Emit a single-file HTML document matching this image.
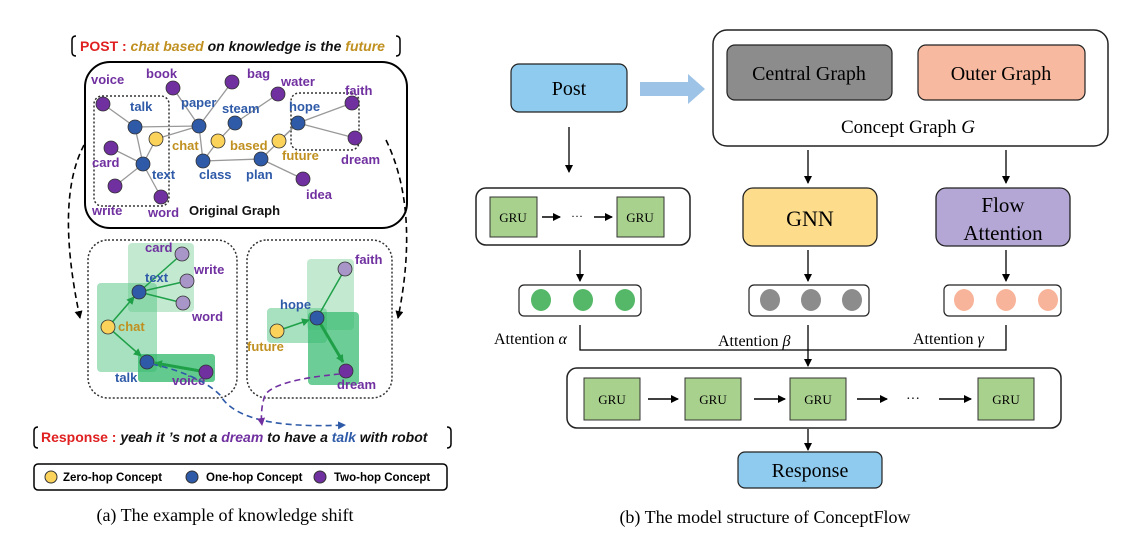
<!DOCTYPE html>
<html><head><meta charset="utf-8"><style>
html,body{margin:0;padding:0;background:#fff;}
svg{display:block;}
.s{font-family:"Liberation Sans",sans-serif;font-weight:bold;}
.r{font-family:"Liberation Serif",serif;}
</style></head><body>
<svg width="1124" height="550" viewBox="0 0 1124 550" xmlns="http://www.w3.org/2000/svg">
<defs>
<marker id="a" markerWidth="8" markerHeight="8" refX="7" refY="4" orient="auto" markerUnits="userSpaceOnUse"><path d="M0,0 L8,4 L0,8 z" fill="#000"/></marker>
<marker id="g" markerWidth="8" markerHeight="8" refX="7" refY="4" orient="auto" markerUnits="userSpaceOnUse"><path d="M0,0 L8,4 L0,8 z" fill="#1fa048"/></marker>
<marker id="b" markerWidth="8" markerHeight="8" refX="7" refY="4" orient="auto" markerUnits="userSpaceOnUse"><path d="M0,0 L8,4 L0,8 z" fill="#2e5aa8"/></marker>
<marker id="p" markerWidth="8" markerHeight="8" refX="7" refY="4" orient="auto" markerUnits="userSpaceOnUse"><path d="M0,0 L8,4 L0,8 z" fill="#7030a0"/></marker>
</defs>
<!-- LEFT PANEL -->
<path d="M76,36 Q72,36 72,40 L72,52 Q72,56 76,56" fill="none" stroke="#000" stroke-width="1.5"/>
<path d="M396,36 Q400,36 400,40 L400,52 Q400,56 396,56" fill="none" stroke="#000" stroke-width="1.5"/>
<text x="80" y="51" class="s" font-size="14"><tspan fill="#e02020">POST :</tspan><tspan fill="#c09020" font-style="italic">  chat based</tspan><tspan fill="#111" font-style="italic"> on knowledge is the </tspan><tspan fill="#c09020" font-style="italic">future</tspan></text>
<rect x="85" y="62" width="322" height="166" rx="25" fill="none" stroke="#000" stroke-width="2"/>
<rect x="94" y="96" width="75" height="110" rx="8" fill="none" stroke="#333" stroke-width="1.5" stroke-dasharray="2,2"/>
<rect x="291" y="93" width="68" height="57" rx="8" fill="none" stroke="#333" stroke-width="1.5" stroke-dasharray="2,2"/>
<g stroke="#999" stroke-width="1.3">
<line x1="103" y1="104" x2="135" y2="127"/><line x1="135" y1="127" x2="199" y2="126"/><line x1="135" y1="127" x2="143" y2="164"/>
<line x1="156" y1="139" x2="199" y2="126"/><line x1="156" y1="139" x2="143" y2="164"/><line x1="111" y1="148" x2="143" y2="164"/>
<line x1="115" y1="186" x2="143" y2="164"/><line x1="161" y1="197" x2="143" y2="164"/><line x1="173" y1="88" x2="199" y2="126"/>
<line x1="232" y1="82" x2="199" y2="126"/><line x1="199" y1="126" x2="203" y2="161"/><line x1="218" y1="141" x2="235" y2="123"/>
<line x1="203" y1="161" x2="218" y2="141"/><line x1="203" y1="161" x2="261" y2="159"/><line x1="235" y1="123" x2="278" y2="94"/>
<line x1="261" y1="159" x2="303" y2="179"/><line x1="261" y1="159" x2="298" y2="123"/><line x1="298" y1="123" x2="352" y2="103"/>
<line x1="298" y1="123" x2="355" y2="138"/><line x1="279" y1="141" x2="298" y2="123"/>
</g>
<g stroke="#333" stroke-width="0.8">
<circle cx="103" cy="104" r="7" fill="#7030a0"/><circle cx="111" cy="148" r="7" fill="#7030a0"/><circle cx="115" cy="186" r="7" fill="#7030a0"/>
<circle cx="161" cy="197" r="7" fill="#7030a0"/><circle cx="173" cy="88" r="7" fill="#7030a0"/><circle cx="232" cy="82" r="7" fill="#7030a0"/>
<circle cx="278" cy="94" r="7" fill="#7030a0"/><circle cx="303" cy="179" r="7" fill="#7030a0"/><circle cx="352" cy="103" r="7" fill="#7030a0"/>
<circle cx="355" cy="138" r="7" fill="#7030a0"/>
<circle cx="135" cy="127" r="7" fill="#2e5aa8"/><circle cx="143" cy="164" r="7" fill="#2e5aa8"/><circle cx="199" cy="126" r="7" fill="#2e5aa8"/>
<circle cx="235" cy="123" r="7" fill="#2e5aa8"/><circle cx="203" cy="161" r="7" fill="#2e5aa8"/><circle cx="261" cy="159" r="7" fill="#2e5aa8"/>
<circle cx="298" cy="123" r="7" fill="#2e5aa8"/>
<circle cx="156" cy="139" r="7" fill="#fbd35a"/><circle cx="218" cy="141" r="7" fill="#fbd35a"/><circle cx="279" cy="141" r="7" fill="#fbd35a"/>
</g>
<g class="s" font-size="13">
<g fill="#7030a0"><text x="91" y="84">voice</text><text x="146" y="78">book</text><text x="247" y="78">bag</text><text x="281" y="86">water</text><text x="345" y="95">faith</text><text x="92" y="167">card</text><text x="92" y="215">write</text><text x="148" y="217">word</text><text x="306" y="199">idea</text><text x="341" y="164">dream</text></g>
<g fill="#2e5aa8"><text x="130" y="111">talk</text><text x="181" y="107">paper</text><text x="222" y="113">steam</text><text x="289" y="111">hope</text><text x="152" y="179">text</text><text x="199" y="179">class</text><text x="246" y="179">plan</text></g>
<g fill="#c09020"><text x="172" y="150">chat</text><text x="230" y="150">based</text><text x="282" y="160">future</text></g>
<text x="189" y="215" fill="#111">Original Graph</text>
</g>
<path d="M84,145 Q55,200 80,318" fill="none" stroke="#000" stroke-width="1.6" stroke-dasharray="6,4" marker-end="url(#a)"/>
<path d="M386,140 Q420,210 398,318" fill="none" stroke="#000" stroke-width="1.6" stroke-dasharray="6,4" marker-end="url(#a)"/>
<rect x="88" y="240" width="149" height="158" rx="20" fill="none" stroke="#333" stroke-width="1.5" stroke-dasharray="2,2"/>
<rect x="247" y="240" width="145" height="158" rx="20" fill="none" stroke="#333" stroke-width="1.5" stroke-dasharray="2,2"/>
<rect x="128" y="243" width="66" height="69" rx="4" fill="#9bdcb3" opacity="0.6"/>
<rect x="97" y="283" width="60" height="89" rx="4" fill="#5fc98a" opacity="0.55"/>
<rect x="138" y="354" width="77" height="28" rx="3" fill="#2fb86a" opacity="0.75"/>
<rect x="307" y="259" width="47" height="71" rx="4" fill="#9bdcb3" opacity="0.6"/>
<rect x="267" y="308" width="60" height="35" rx="4" fill="#5fc98a" opacity="0.55"/>
<rect x="308" y="312" width="51" height="73" rx="4" fill="#2fb86a" opacity="0.7"/>
<g stroke="#1fa048" stroke-width="1.5" fill="none">
<line x1="139" y1="292" x2="182" y2="254"/><line x1="139" y1="292" x2="187" y2="281"/><line x1="139" y1="292" x2="183" y2="303"/>
<line x1="108" y1="327" x2="134" y2="297" marker-end="url(#g)"/><line x1="108" y1="327" x2="141" y2="356" marker-end="url(#g)"/>
<line x1="206" y1="372" x2="155" y2="363" stroke-width="3" marker-end="url(#g)"/>
<line x1="277" y1="331" x2="309" y2="320" marker-end="url(#g)"/><line x1="317" y1="318" x2="345" y2="269"/>
<line x1="317" y1="318" x2="343" y2="362" stroke-width="3" marker-end="url(#g)"/>
</g>
<g stroke="#333" stroke-width="0.8">
<circle cx="182" cy="254" r="7" fill="#a996c9"/><circle cx="187" cy="281" r="7" fill="#a996c9"/><circle cx="183" cy="303" r="7" fill="#a996c9"/>
<circle cx="345" cy="269" r="7" fill="#a996c9"/>
<circle cx="139" cy="292" r="7" fill="#2e5aa8"/><circle cx="147" cy="362" r="7" fill="#2e5aa8"/><circle cx="317" cy="318" r="7" fill="#2e5aa8"/>
<circle cx="206" cy="372" r="7" fill="#7030a0"/><circle cx="346" cy="371" r="7" fill="#7030a0"/>
<circle cx="108" cy="327" r="7" fill="#fbd35a"/><circle cx="277" cy="331" r="7" fill="#fbd35a"/>
</g>
<g class="s" font-size="13">
<g fill="#7030a0"><text x="145" y="252">card</text><text x="194" y="274">write</text><text x="192" y="321">word</text><text x="355" y="264">faith</text><text x="337" y="389">dream</text><text x="172" y="385">voice</text></g>
<g fill="#2e5aa8"><text x="145" y="282">text</text><text x="280" y="309">hope</text><text x="115" y="382">talk</text></g>
<g fill="#c09020"><text x="118" y="331">chat</text><text x="247" y="351">future</text></g>
</g>
<path d="M152,364 Q200,375 220,395 Q240,430 345,425" fill="none" stroke="#2e5aa8" stroke-width="1.6" stroke-dasharray="6,4" marker-end="url(#b)"/>
<path d="M340,374 Q275,380 265,395 Q260,410 262,425" fill="none" stroke="#7030a0" stroke-width="1.6" stroke-dasharray="6,4" marker-end="url(#p)"/>
<path d="M38,427 Q34,427 34,431 L34,444 Q34,448 38,448" fill="none" stroke="#000" stroke-width="1.5"/>
<path d="M447,427 Q451,427 451,431 L451,444 Q451,448 447,448" fill="none" stroke="#000" stroke-width="1.5"/>
<text x="41" y="442" class="s" font-size="14"><tspan fill="#e02020">Response :</tspan><tspan fill="#111" font-style="italic"> yeah it ’s not a </tspan><tspan fill="#7030a0" font-style="italic">dream</tspan><tspan fill="#111" font-style="italic"> to have a </tspan><tspan fill="#2e5aa8" font-style="italic">talk</tspan><tspan fill="#111" font-style="italic"> with robot</tspan></text>
<rect x="34" y="464" width="413" height="26" rx="4" fill="none" stroke="#000" stroke-width="1.5"/>
<circle cx="51" cy="477" r="6" fill="#fbd35a" stroke="#333"/><text x="63" y="481" class="s" font-size="11.5">Zero-hop Concept</text>
<circle cx="192" cy="477" r="6" fill="#2e5aa8" stroke="#333"/><text x="206" y="481" class="s" font-size="11.5">One-hop Concept</text>
<circle cx="320" cy="477" r="6" fill="#7030a0" stroke="#333"/><text x="334" y="481" class="s" font-size="11.5">Two-hop Concept</text>
<text x="225" y="521" class="r" font-size="18" text-anchor="middle">(a) The example of knowledge shift</text>
<!-- RIGHT PANEL -->
<rect x="511" y="64" width="116" height="48" rx="8" fill="#8ecbef" stroke="#222" stroke-width="1.2"/>
<text x="569" y="95" class="r" font-size="20" text-anchor="middle">Post</text>
<path d="M640,82 L688,82 L688,74 L705,89 L688,104 L688,96 L640,96 z" fill="#9dc3e6"/>
<rect x="713" y="30" width="395" height="116" rx="14" fill="#fff" stroke="#222" stroke-width="1.5"/>
<rect x="727" y="45" width="165" height="55" rx="8" fill="#8c8c8c" stroke="#222" stroke-width="1.2"/>
<text x="809" y="80" class="r" font-size="20" text-anchor="middle">Central Graph</text>
<rect x="918" y="45" width="167" height="55" rx="8" fill="#f7baa0" stroke="#222" stroke-width="1.2"/>
<text x="1001" y="80" class="r" font-size="20" text-anchor="middle">Outer Graph</text>
<text x="908" y="133" class="r" font-size="19" text-anchor="middle">Concept Graph <tspan font-style="italic">G</tspan></text>
<g stroke="#000" stroke-width="1.3" fill="none">
<line x1="569" y1="127" x2="569" y2="172" marker-end="url(#a)"/>
<line x1="808" y1="150" x2="808" y2="183" marker-end="url(#a)"/>
<line x1="1006" y1="150" x2="1006" y2="183" marker-end="url(#a)"/>
<line x1="580" y1="250" x2="580" y2="281" marker-end="url(#a)"/>
<line x1="808" y1="250" x2="808" y2="281" marker-end="url(#a)"/>
<line x1="1006" y1="250" x2="1006" y2="281" marker-end="url(#a)"/>
<polyline points="580,325 580,350 1006,350 1006,325"/>
<line x1="808" y1="325" x2="808" y2="366" marker-end="url(#a)"/>
<line x1="808" y1="429" x2="808" y2="450" marker-end="url(#a)"/>
</g>
<rect x="476" y="188" width="214" height="57" rx="10" fill="#fff" stroke="#222" stroke-width="1.5"/>
<rect x="490" y="197" width="47" height="40" fill="#a9d18e" stroke="#333"/><text x="513" y="222" class="r" font-size="13" text-anchor="middle">GRU</text>
<rect x="617" y="197" width="47" height="40" fill="#a9d18e" stroke="#333"/><text x="640" y="222" class="r" font-size="13" text-anchor="middle">GRU</text>
<line x1="542" y1="217" x2="560" y2="217" stroke="#000" stroke-width="1.5" marker-end="url(#a)"/>
<text x="577" y="220" font-size="12" text-anchor="middle" class="r">···</text>
<line x1="594" y1="217" x2="612" y2="217" stroke="#000" stroke-width="1.5" marker-end="url(#a)"/>
<rect x="743" y="188" width="134" height="58" rx="10" fill="#fddd8c" stroke="#222" stroke-width="1.3"/>
<text x="810" y="226" class="r" font-size="22" text-anchor="middle">GNN</text>
<rect x="936" y="188" width="134" height="58" rx="10" fill="#b4a7d6" stroke="#222" stroke-width="1.3"/>
<text x="1003" y="212" class="r" font-size="21" text-anchor="middle">Flow</text>
<text x="1003" y="240" class="r" font-size="21" text-anchor="middle">Attention</text>
<rect x="519" y="285" width="122" height="31" rx="5" fill="#fff" stroke="#222" stroke-width="1.2"/>
<g fill="#55b868"><ellipse cx="541" cy="300" rx="10" ry="11"/><ellipse cx="583" cy="300" rx="10" ry="11"/><ellipse cx="625" cy="300" rx="10" ry="11"/></g>
<rect x="749" y="285" width="120" height="31" rx="5" fill="#fff" stroke="#222" stroke-width="1.2"/>
<g fill="#8c8c8c"><ellipse cx="770" cy="300" rx="10" ry="11"/><ellipse cx="811" cy="300" rx="10" ry="11"/><ellipse cx="852" cy="300" rx="10" ry="11"/></g>
<rect x="944" y="285" width="117" height="31" rx="5" fill="#fff" stroke="#222" stroke-width="1.2"/>
<g fill="#f8b49a"><ellipse cx="964" cy="300" rx="10" ry="11"/><ellipse cx="1006" cy="300" rx="10" ry="11"/><ellipse cx="1048" cy="300" rx="10" ry="11"/></g>
<g class="r" font-size="16">
<text x="494" y="344">Attention <tspan font-style="italic">α</tspan></text>
<text x="718" y="346">Attention <tspan font-style="italic">β</tspan></text>
<text x="913" y="344">Attention <tspan font-style="italic">γ</tspan></text>
</g>
<rect x="567" y="368" width="494" height="60" rx="10" fill="#fff" stroke="#222" stroke-width="1.5"/>
<g class="r" font-size="13" text-anchor="middle">
<rect x="584" y="378" width="56" height="42" fill="#a9d18e" stroke="#333"/><text x="612" y="404">GRU</text>
<rect x="685" y="378" width="56" height="42" fill="#a9d18e" stroke="#333"/><text x="713" y="404">GRU</text>
<rect x="790" y="378" width="56" height="42" fill="#a9d18e" stroke="#333"/><text x="818" y="404">GRU</text>
<rect x="978" y="378" width="56" height="42" fill="#a9d18e" stroke="#333"/><text x="1006" y="404">GRU</text>
</g>
<g stroke="#000" stroke-width="1.5">
<line x1="648" y1="399" x2="678" y2="399" marker-end="url(#a)"/>
<line x1="754" y1="399" x2="785" y2="399" marker-end="url(#a)"/>
<line x1="857" y1="399" x2="887" y2="399" marker-end="url(#a)"/>
<line x1="939" y1="399" x2="971" y2="399" marker-end="url(#a)"/>
</g>
<text x="913" y="403" class="r" font-size="14" text-anchor="middle">···</text>
<rect x="738" y="452" width="144" height="36" rx="7" fill="#8ecbef" stroke="#222" stroke-width="1.2"/>
<text x="810" y="477" class="r" font-size="20" text-anchor="middle">Response</text>
<text x="765" y="523" class="r" font-size="18" text-anchor="middle">(b) The model structure of ConceptFlow</text>
</svg>
</body></html>
